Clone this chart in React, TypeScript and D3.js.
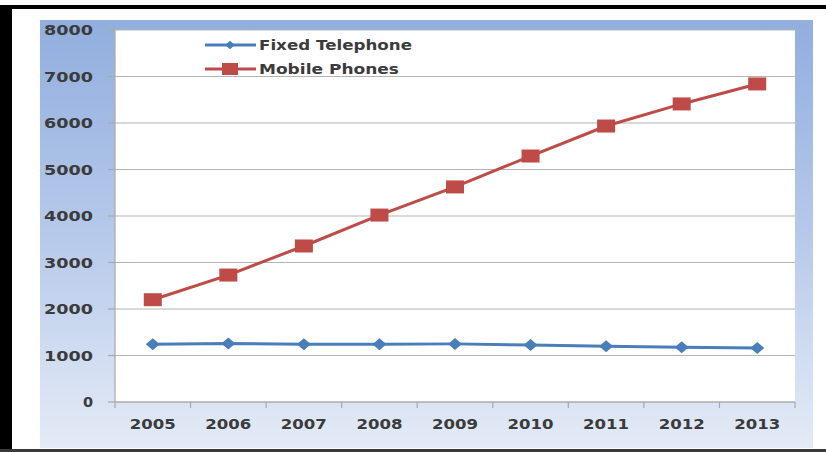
import React from "react";
import * as d3 from "d3";

const years = ["2005", "2006", "2007", "2008", "2009", "2010", "2011", "2012", "2013"];
const fixedTelephone = [1240, 1260, 1240, 1240, 1250, 1225, 1200, 1180, 1160];
const mobilePhones = [2200, 2730, 3355, 4020, 4625, 5290, 5935, 6410, 6840];
const yTicks = [0, 1000, 2000, 3000, 4000, 5000, 6000, 7000, 8000];
const seriesNames = ["Fixed Telephone", "Mobile Phones"];

const W = 826;
const H = 452;
const plot = { left: 115, right: 795, top: 30, bottom: 402 };
const FONT = "'DejaVu Sans', sans-serif";
const TEXT = "#3b3b3b";
const BLUE = "#4a7ebb";
const RED = "#be4b48";

export default function App() {
  const x = d3.scaleBand<string>().domain(years).range([plot.left, plot.right]).padding(0);
  const cx = (d: string) => (x(d) as number) + x.bandwidth() / 2;
  const y = d3.scaleLinear().domain([0, 8000]).range([plot.bottom, plot.top]);

  const line = d3
    .line<number>()
    .x((_, i) => cx(years[i]))
    .y((v) => y(v));

  const diamond = (px: number, py: number) =>
    `M${px},${py - 6}L${px + 7},${py}L${px},${py + 6}L${px - 7},${py}Z`;

  const edges = [...years.map((d) => x(d) as number), plot.right];

  return (
    <svg
      width={W}
      height={H}
      style={{ position: "absolute", left: 0, top: 0, display: "block" }}
    >
      <defs>
        <linearGradient id="bg" x1="0" y1="0" x2="0" y2="1">
          <stop offset="0" stopColor="#91aede" />
          <stop offset="0.5" stopColor="#b6c9ea" />
          <stop offset="1" stopColor="#e4ebf6" />
        </linearGradient>
      </defs>
      <rect x={0} y={0} width={W} height={H} fill="#ffffff" />
      {/* outer frame */}
      <rect x={0} y={5} width={W} height={4} fill="#000" />
      <rect x={0} y={5} width={12} height={H - 5} fill="#000" />
      <rect x={0} y={449} width={W} height={3} fill="#3a3a3a" />

      {/* chart area */}
      <rect x={40} y={20} width={773} height={428} fill="url(#bg)" />
      <rect x={plot.left} y={plot.top} width={plot.right - plot.left} height={plot.bottom - plot.top} fill="#ffffff" />

      {/* gridlines */}
      {yTicks.map((t) => (
        <line
          key={"g" + t}
          x1={plot.left}
          x2={plot.right}
          y1={y(t)}
          y2={y(t)}
          stroke="#b4b4b4"
          strokeWidth={1.2}
        />
      ))}
      {/* axes */}
      <line x1={plot.left} x2={plot.left} y1={plot.top} y2={plot.bottom} stroke="#a8a8a8" strokeWidth={1.2} />
      <line x1={plot.left} x2={plot.right} y1={plot.bottom} y2={plot.bottom} stroke="#a8a8a8" strokeWidth={1.2} />
      {yTicks.map((t) => (
        <line key={"yt" + t} x1={plot.left - 7} x2={plot.left} y1={y(t)} y2={y(t)} stroke="#a8a8a8" strokeWidth={1.2} />
      ))}
      {edges.map((e, i) => (
        <line key={"xt" + i} x1={e} x2={e} y1={plot.bottom} y2={plot.bottom + 6} stroke="#a8a8a8" strokeWidth={1.2} />
      ))}

      {/* y labels */}
      {yTicks.map((t) => (
        <text
          key={"yl" + t}
          x={93}
          y={y(t)}
          dy="0.36em"
          textAnchor="end"
          fontFamily={FONT}
          fontWeight="bold"
          fontSize={14.5}
          fill={TEXT}
          textLength={t === 0 ? undefined : 49}
          lengthAdjust="spacingAndGlyphs"
        >
          {t}
        </text>
      ))}
      {/* x labels */}
      {years.map((d) => (
        <text
          key={"xl" + d}
          x={cx(d)}
          y={424}
          dy="0.36em"
          textAnchor="middle"
          fontFamily={FONT}
          fontWeight="bold"
          fontSize={14.5}
          fill={TEXT}
          textLength={46}
          lengthAdjust="spacingAndGlyphs"
        >
          {d}
        </text>
      ))}

      {/* series lines */}
      <path d={line(fixedTelephone) || ""} fill="none" stroke={BLUE} strokeWidth={3} />
      <path d={line(mobilePhones) || ""} fill="none" stroke={RED} strokeWidth={3} />
      {fixedTelephone.map((v, i) => (
        <path key={"d" + i} d={diamond(cx(years[i]), y(v))} fill={BLUE} />
      ))}
      {mobilePhones.map((v, i) => (
        <rect key={"s" + i} x={cx(years[i]) - 9} y={y(v) - 6.5} width={18} height={13} fill={RED} />
      ))}

      {/* legend */}
      <g>
        <line x1={205} x2={256} y1={45} y2={45} stroke={BLUE} strokeWidth={3} />
        <path d={diamond(230, 45)} fill={BLUE} transform="translate(230,45) scale(0.7) translate(-230,-45)" />
        <text x={259} y={45} dy="0.36em" fontFamily={FONT} fontWeight="bold" fontSize={14.5} fill={TEXT} textLength={153} lengthAdjust="spacingAndGlyphs">
          {seriesNames[0]}
        </text>
        <line x1={205} x2={256} y1={69} y2={69} stroke={RED} strokeWidth={3} />
        <rect x={222} y={63} width={16} height={12} fill={RED} />
        <text x={259} y={69} dy="0.36em" fontFamily={FONT} fontWeight="bold" fontSize={14.5} fill={TEXT} textLength={140} lengthAdjust="spacingAndGlyphs">
          {seriesNames[1]}
        </text>
      </g>
    </svg>
  );
}
